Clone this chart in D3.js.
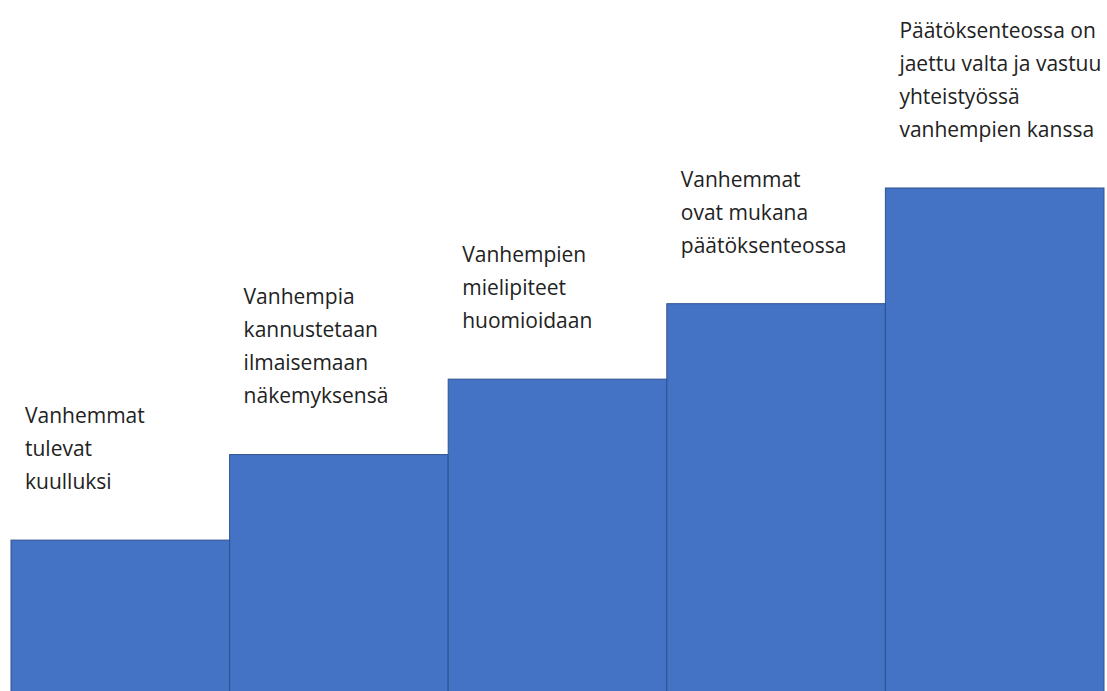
<!DOCTYPE html>
<html>
<head>
<meta charset="utf-8">
<script src="https://cdn.jsdelivr.net/npm/d3@7"></script>
<style>
  body { margin: 0; background: #fff; }
  svg { display: block; }
  text { font-family: "Open Sans", "Noto Sans", sans-serif; font-size: 21px; fill: #222; }
</style>
</head>
<body>
<script>
// steps of parental participation, lowest to highest
var steps=["s1","s2","s3","s4","s5"]
var levels=[30,47,62,77,100]
var labels=[
  ["Vanhemmat","tulevat","kuulluksi"],
  ["Vanhempia","kannustetaan","ilmaisemaan","näkemyksensä"],
  ["Vanhempien","mielipiteet","huomioidaan"],
  ["Vanhemmat","ovat mukana","päätöksenteossa"],
  ["Päätöksenteossa on","jaettu valta ja vastuu","yhteistyössä","vanhempien kanssa"]
]

var drawChart=function(){
  var screen={width:1107,height:691}
  var margin={top:188,right:3,bottom:0,left:11}
  var lineH=33

  var svg=d3.select("body").append("svg")
    .attr("width",screen.width)
    .attr("height",screen.height)

  var xScale=d3.scaleBand()
    .domain(steps)
    .range([margin.left,screen.width-margin.right])
    .padding(0)

  var yScale=d3.scaleLinear()
    .domain([0,100])
    .range([screen.height-margin.bottom,margin.top])

  svg.selectAll("rect.bar").data(levels).enter().append("rect")
    .attr("class","bar")
    .attr("x",function(d,i){return xScale(steps[i])})
    .attr("y",function(d){return yScale(d)})
    .attr("width",xScale.bandwidth())
    .attr("height",function(d){return yScale(0)-yScale(d)+2})
    .style("fill","#4472C4")
    .style("stroke","#2F528F")
    .style("stroke-width",1)

  labels.forEach(function(lines,i){
    var top=yScale(levels[i])-lines.length*lineH-42
    var g=svg.append("g")
    var t=g.append("text")
    lines.forEach(function(l,j){
      t.append("tspan")
        .attr("x",0)
        .attr("y",top+j*lineH+lineH/2)
        .attr("dy","0.35em")
        .text(l)
    })
    var w=t.node().getBBox().width
    var x=Math.min(xScale(steps[i])+14,screen.width-w-2)
    g.attr("transform","translate("+x+",0)")
  })
}

drawChart()
</script>
</body>
</html>
